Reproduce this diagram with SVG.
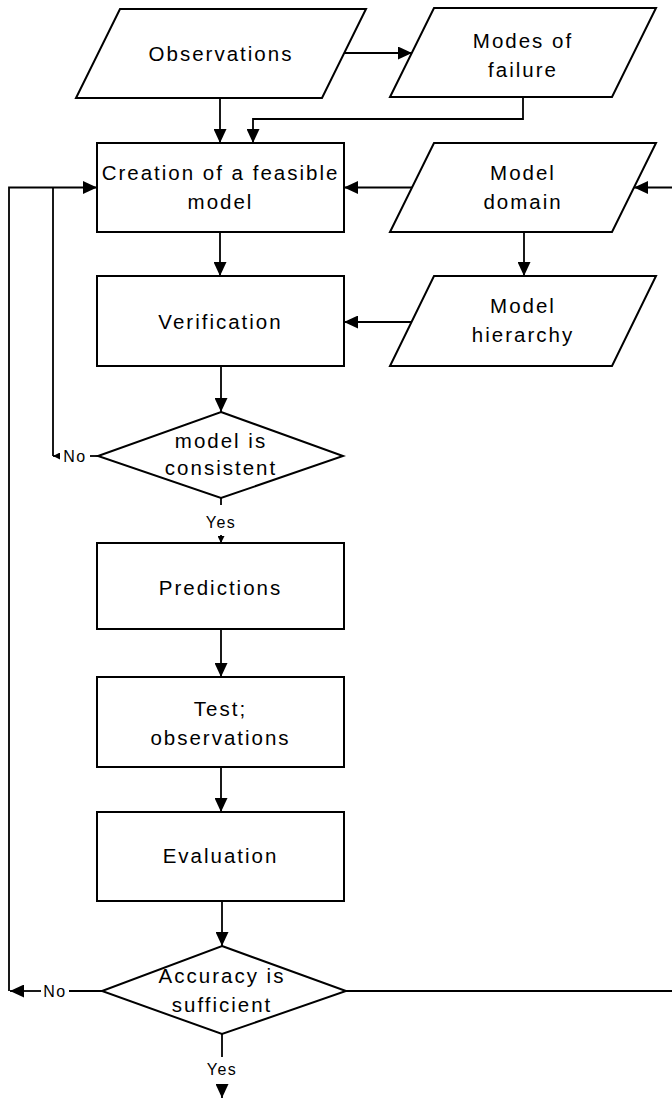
<svg xmlns="http://www.w3.org/2000/svg" width="672" height="1100" viewBox="0 0 672 1100">
<style>
.shape{fill:#fff;stroke:#000;stroke-width:2}
.t{font-family:"Liberation Sans",Arial,sans-serif;font-size:20.5px;letter-spacing:2px;text-anchor:middle;fill:#000}
.s{font-family:"Liberation Sans",Arial,sans-serif;font-size:16px;letter-spacing:1.5px;text-anchor:middle;fill:#000}
.c{fill:none;stroke:#000;stroke-width:1.8}
</style>
<defs>
<marker id="arr" markerUnits="userSpaceOnUse" markerWidth="15" markerHeight="13" refX="14" refY="6.5" orient="auto">
<path d="M0,0 L14,6.5 L0,13 z" fill="#000"/>
</marker>
<marker id="sm" markerUnits="userSpaceOnUse" markerWidth="8" markerHeight="7" refX="7" refY="3.5" orient="auto">
<path d="M0,0 L7,3.5 L0,7 z" fill="#000"/>
</marker>
</defs>
<rect width="672" height="1100" fill="#fff"/>
<g id="connectors">
<path class="c" d="M344,53 H412" marker-end="url(#arr)"/>
<path class="c" d="M220,98 V143" marker-end="url(#arr)"/>
<path class="c" d="M523,97 V119 H253 V143" marker-end="url(#arr)"/>
<path class="c" d="M412,187.5 H344" marker-end="url(#arr)"/>
<path class="c" d="M672,187.5 H634" marker-end="url(#arr)"/>
<path class="c" d="M220,232 V276" marker-end="url(#arr)"/>
<path class="c" d="M524,232 V276" marker-end="url(#arr)"/>
<path class="c" d="M412,322 H344" marker-end="url(#arr)"/>
<path class="c" d="M221,366 V412" marker-end="url(#arr)"/>
<path class="c" d="M98,456 H90"/>
<path class="c" d="M60,456 H53" marker-end="url(#sm)"/>
<path class="c" d="M53,456 V188"/>
<path class="c" d="M9,991 V187.5 H97" marker-end="url(#arr)"/>
<path class="c" d="M221,498 V505"/>
<path class="c" d="M221,535 V543" marker-end="url(#sm)"/>
<path class="c" d="M221,629 V677" marker-end="url(#arr)"/>
<path class="c" d="M221,767 V812" marker-end="url(#arr)"/>
<path class="c" d="M222,901 V946" marker-end="url(#arr)"/>
<path class="c" d="M346,991 H672"/>
<path class="c" d="M102,991 H69"/>
<path class="c" d="M41,991 H10" marker-end="url(#arr)"/>
<path class="c" d="M222,1034 V1057"/>
<path class="c" d="M222,1084 V1098" marker-end="url(#arr)"/>
<text class="s" x="75" y="462">No</text>
<text class="s" x="221" y="528">Yes</text>
<text class="s" x="55" y="997">No</text>
<text class="s" x="222" y="1075">Yes</text>
</g>
<g id="observations">
<polygon class="shape" points="120,9 366,9 322,98 76,98"/>
<text class="t" x="221" y="61">Observations</text>
</g>
<g id="modes-of-failure">
<polygon class="shape" points="434,8 656,8 612,97 390,97"/>
<text class="t" x="523" y="48">Modes of</text>
<text class="t" x="523" y="77">failure</text>
</g>
<g id="creation">
<rect class="shape" x="97" y="143" width="247" height="89"/>
<text class="t" x="220.5" y="180">Creation of a feasible</text>
<text class="t" x="220.5" y="209">model</text>
</g>
<g id="model-domain">
<polygon class="shape" points="434,143 656,143 612,232 390,232"/>
<text class="t" x="523" y="180">Model</text>
<text class="t" x="523" y="209">domain</text>
</g>
<g id="verification">
<rect class="shape" x="97" y="276" width="247" height="90"/>
<text class="t" x="220.5" y="329">Verification</text>
</g>
<g id="model-hierarchy">
<polygon class="shape" points="434,276 656,276 612,366 390,366"/>
<text class="t" x="523" y="313">Model</text>
<text class="t" x="523" y="342">hierarchy</text>
</g>
<g id="model-consistent">
<polygon class="shape" points="221,412 343,456 221,498 98,456"/>
<text class="t" x="221" y="448">model is</text>
<text class="t" x="221" y="475">consistent</text>
</g>
<g id="predictions">
<rect class="shape" x="97" y="543" width="247" height="86"/>
<text class="t" x="220.5" y="595">Predictions</text>
</g>
<g id="test">
<rect class="shape" x="97" y="677" width="247" height="90"/>
<text class="t" x="220.5" y="716">Test;</text>
<text class="t" x="220.5" y="745">observations</text>
</g>
<g id="evaluation">
<rect class="shape" x="97" y="812" width="247" height="89"/>
<text class="t" x="220.5" y="863">Evaluation</text>
</g>
<g id="accuracy">
<polygon class="shape" points="222,946 346,991 222,1034 102,991"/>
<text class="t" x="222" y="983">Accuracy is</text>
<text class="t" x="222" y="1012">sufficient</text>
</g>
</svg>
